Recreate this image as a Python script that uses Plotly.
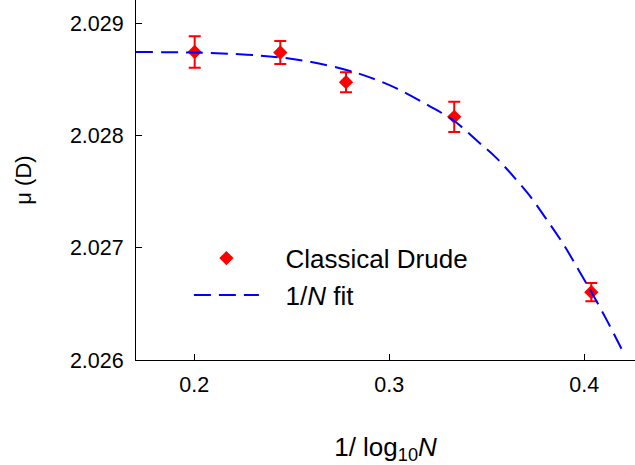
import plotly.graph_objects as go

# Data points (Classical Drude)
x_pts = [0.2002, 0.2441, 0.2778, 0.3333, 0.4036]
y_pts = [2.028747, 2.028742, 2.028477, 2.028168, 2.026605]
y_err = [0.000140, 0.000102, 0.000089, 0.000135, 0.000082]

# 1/N fit curve
x_fit = [0.170, 0.200, 0.227, 0.244, 0.260, 0.278, 0.290, 0.304, 0.320, 0.333,
         0.345, 0.355, 0.365, 0.372, 0.380, 0.389, 0.397, 0.404, 0.412, 0.4195]
y_fit = [2.028746, 2.028741, 2.028722, 2.028698, 2.028657, 2.028586, 2.028520,
         2.028420, 2.028270, 2.028135, 2.027955, 2.027800, 2.027610, 2.027465,
         2.027270, 2.027040, 2.026805, 2.026595, 2.026340, 2.026085]

x_ticks = [0.2, 0.3, 0.4]
y_ticks = [2.026, 2.027, 2.028, 2.029]

FONT = "Liberation Sans, Arial, sans-serif"
PAD = "\u00a0\u00a0\u00a0"

fig = go.Figure()
fig.add_trace(go.Scatter(
    x=x_pts, y=y_pts, mode="markers", name=PAD + "Classical Drude",
    marker=dict(symbol="diamond", size=11, color="#FF0000"),
    error_y=dict(type="data", array=y_err, visible=True, color="#FF0000",
                 thickness=2, width=6),
))
fig.add_trace(go.Scatter(
    x=x_fit, y=y_fit, mode="lines", name=PAD + "1/<i>N</i> fit",
    line=dict(color="#0000FF", width=2, dash="17px,8px", shape="spline"),
))

fig.update_layout(
    width=635, height=465,
    margin=dict(l=136, r=0, t=0, b=105),
    paper_bgcolor="white", plot_bgcolor="white",
    font=dict(family=FONT, size=21.5, color="black"),
    showlegend=True,
    legend=dict(x=0.106, y=0.348, xanchor="left", yanchor="top",
                font=dict(size=26, family=FONT), bgcolor="rgba(0,0,0,0)",
                itemwidth=65, tracegroupgap=0),
)
fig.update_xaxes(
    range=[0.1701, 0.4260], tickvals=x_ticks, ticktext=[str(v) for v in x_ticks],
    ticks="inside", ticklen=6, tickwidth=1, tickcolor="black",
    showline=True, linecolor="black", linewidth=1, mirror=False,
    showgrid=False, zeroline=False, automargin=False, ticklabelstandoff=5,
    title=dict(text="1/ log<sub>10</sub><i>N</i>", font=dict(size=26), standoff=43),
)
fig.update_yaxes(
    range=[2.026, 2.02921], tickvals=y_ticks, ticktext=[f"{v:.3f}" for v in y_ticks],
    ticks="inside", ticklen=6, tickwidth=1, tickcolor="black",
    showline=True, linecolor="black", linewidth=1, mirror=False,
    showgrid=False, zeroline=False, automargin=False, ticklabelstandoff=7,
    title=dict(text="μ (D)\u00a0\u00a0", font=dict(size=22), standoff=32),
)

fig.write_html("out.html",
               config={"displayModeBar": False},
               post_script="document.body.style.margin='0';document.body.style.overflow='hidden';")
